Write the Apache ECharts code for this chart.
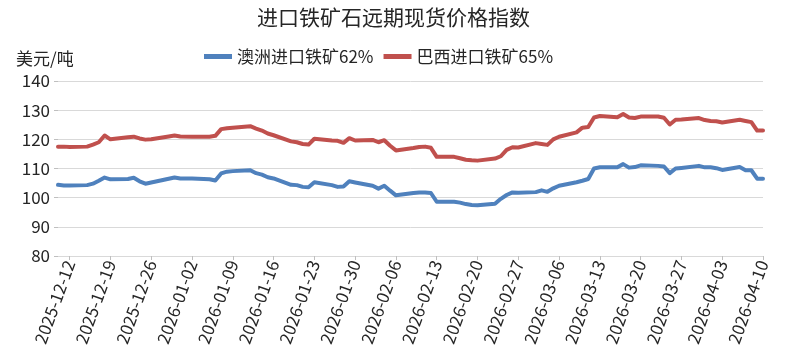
<!DOCTYPE html>
<html><head><meta charset="utf-8">
<script src="https://cdn.jsdelivr.net/npm/echarts@6/dist/echarts.min.js"></script>
<style>html,body{margin:0;padding:0;background:#fff}#c{width:787px;height:364px}</style>
</head><body><div id="c"></div>
<script>
const chartTitle = '进口铁矿石远期现货价格指数';
const seriesNames = ['澳洲进口铁矿62%', '巴西进口铁矿65%'];
const unitName = '美元/吨';

const dates = [
  '2025-12-10','2025-12-11','2025-12-12','2025-12-15','2025-12-16','2025-12-17','2025-12-18','2025-12-19',
  '2025-12-22','2025-12-23','2025-12-24','2025-12-25','2025-12-26','2025-12-29','2025-12-30','2025-12-31',
  '2026-01-02','2026-01-05','2026-01-06','2026-01-07','2026-01-08','2026-01-09','2026-01-12','2026-01-13',
  '2026-01-14','2026-01-15','2026-01-16','2026-01-19','2026-01-20','2026-01-21','2026-01-22','2026-01-23',
  '2026-01-26','2026-01-27','2026-01-28','2026-01-29','2026-01-30',
  '2026-02-02','2026-02-03','2026-02-04','2026-02-05','2026-02-06','2026-02-09','2026-02-10','2026-02-11',
  '2026-02-12','2026-02-13','2026-02-16','2026-02-17','2026-02-18','2026-02-19','2026-02-20','2026-02-23',
  '2026-02-24','2026-02-25','2026-02-26','2026-02-27',
  '2026-03-02','2026-03-03','2026-03-04','2026-03-05','2026-03-06','2026-03-09','2026-03-10','2026-03-11',
  '2026-03-12','2026-03-13','2026-03-16','2026-03-17','2026-03-18','2026-03-19','2026-03-20','2026-03-23',
  '2026-03-24','2026-03-25','2026-03-26','2026-03-27','2026-03-30','2026-03-31',
  '2026-04-01','2026-04-02','2026-04-03','2026-04-06','2026-04-07','2026-04-08','2026-04-09','2026-04-10'
];

const ausValues = [
  104.4,104.2,104.2,104.3,104.8,105.8,106.9,106.3,106.4,106.8,105.6,104.8,105.2,106.5,106.9,106.6,
  106.6,106.3,105.9,108.3,108.9,109.1,109.4,108.4,107.9,107.0,106.6,104.4,104.3,103.7,103.6,105.3,
  104.3,103.7,103.8,105.6,105.2,
  104.1,103.1,104.1,102.4,100.8,101.6,101.8,101.8,101.6,98.6,98.6,98.3,97.8,97.5,97.4,97.9,
  99.6,100.9,101.8,101.7,
  101.9,102.5,102.0,103.2,104.1,105.3,105.8,106.4,110.0,110.4,110.4,111.5,110.3,110.5,111.1,110.9,
  110.7,108.4,110.0,110.2,110.9,110.4,
  110.4,110.1,109.5,110.5,109.4,109.4,106.5,106.5
];

const braValues = [
  117.5,117.5,117.4,117.5,118.2,119.0,121.3,120.0,120.7,120.9,120.3,119.9,120.0,121.0,121.3,121.0,
  120.9,120.9,121.2,123.5,123.8,124.0,124.5,123.7,123.0,122.0,121.4,119.3,119.0,118.4,118.2,120.2,
  119.6,119.5,118.8,120.4,119.6,
  119.8,119.0,119.7,117.8,116.2,117.0,117.4,117.5,117.1,114.0,114.0,113.5,113.0,112.8,112.7,113.4,
  114.2,116.4,117.3,117.2,
  118.7,118.4,118.1,120.0,120.9,122.4,124.0,124.2,127.5,128.0,127.6,128.7,127.5,127.3,127.8,127.8,
  127.4,125.1,126.7,126.8,127.3,126.6,
  126.3,126.2,125.8,126.7,126.3,125.9,123.0,123.0
];

const tickLabels = [
  '2025-12-12','2025-12-19','2025-12-26','2026-01-02','2026-01-09','2026-01-16','2026-01-23','2026-01-30',
  '2026-02-06','2026-02-13','2026-02-20','2026-02-27','2026-03-06','2026-03-13','2026-03-20','2026-03-27',
  '2026-04-03','2026-04-10'
];

// calendar-day category axis (library needs one category per day)
function ymd(t) {
  const d = new Date(t);
  const p = n => String(n).padStart(2, '0');
  return d.getUTCFullYear() + '-' + p(d.getUTCMonth() + 1) + '-' + p(d.getUTCDate());
}
const days = [];
const t0 = Date.parse(dates[0] + 'T00:00:00Z');
const t1 = Date.parse(dates[dates.length - 1] + 'T00:00:00Z');
for (let t = t0; t <= t1; t += 86400000) days.push(ymd(t));

function toSeries(vals) {
  const m = {};
  dates.forEach((d, i) => { m[d] = vals[i]; });
  return days.map(d => (d in m ? m[d] : null));
}
const tickSet = new Set(tickLabels);
const showTick = (idx, val) => tickSet.has(val);

const FONT = '"Noto Sans CJK SC", "Noto Sans", sans-serif';
const chart = echarts.init(document.getElementById('c'), null, { renderer: 'canvas' });
chart.setOption({
  animation: false,
  backgroundColor: '#ffffff',
  textStyle: { fontFamily: FONT },
  title: [
    { text: chartTitle, left: 'center', top: 2,
      textStyle: { fontSize: 21, fontWeight: 'normal', color: '#262626', fontFamily: FONT } },
    { text: unitName, left: 11, top: 45,
      textStyle: { fontSize: 17, fontWeight: 'normal', color: '#262626', fontFamily: FONT } }
  ],
  legend: {
    top: 43, left: 199, itemWidth: 28, itemHeight: 5, itemGap: 10, icon: 'rect',
    textStyle: { fontSize: 17, color: '#262626', fontFamily: FONT },
    data: seriesNames
  },
  grid: { left: 58, right: 24, top: 81, bottom: 108, containLabel: false },
  xAxis: {
    type: 'category', data: days, boundaryGap: false,
    axisLine: { show: true, lineStyle: { color: '#d9d9d9', width: 1 } },
    axisTick: { show: true, interval: showTick, length: 4, lineStyle: { color: '#bfbfbf' } },
    axisLabel: { interval: showTick, rotate: 70, fontSize: 17, color: '#262626', margin: 5, fontFamily: FONT },
    splitLine: { show: false }
  },
  yAxis: {
    type: 'value', min: 80, max: 140, interval: 10,
    axisLine: { show: false },
    axisTick: { show: true, length: 4, lineStyle: { color: '#bfbfbf' } },
    axisLabel: { fontSize: 17, color: '#262626', margin: 8, fontFamily: FONT },
    splitLine: { lineStyle: { color: '#d9d9d9', width: 1 } }
  },
  series: [
    { name: seriesNames[0], type: 'line', data: toSeries(ausValues), connectNulls: true,
      symbol: 'none', smooth: false, itemStyle: { color: '#4f81bd' },
      lineStyle: { color: '#4f81bd', width: 4, join: 'round', cap: 'round' } },
    { name: seriesNames[1], type: 'line', data: toSeries(braValues), connectNulls: true,
      symbol: 'none', smooth: false, itemStyle: { color: '#c0504d' },
      lineStyle: { color: '#c0504d', width: 4, join: 'round', cap: 'round' } }
  ]
});
</script>
</body></html>
